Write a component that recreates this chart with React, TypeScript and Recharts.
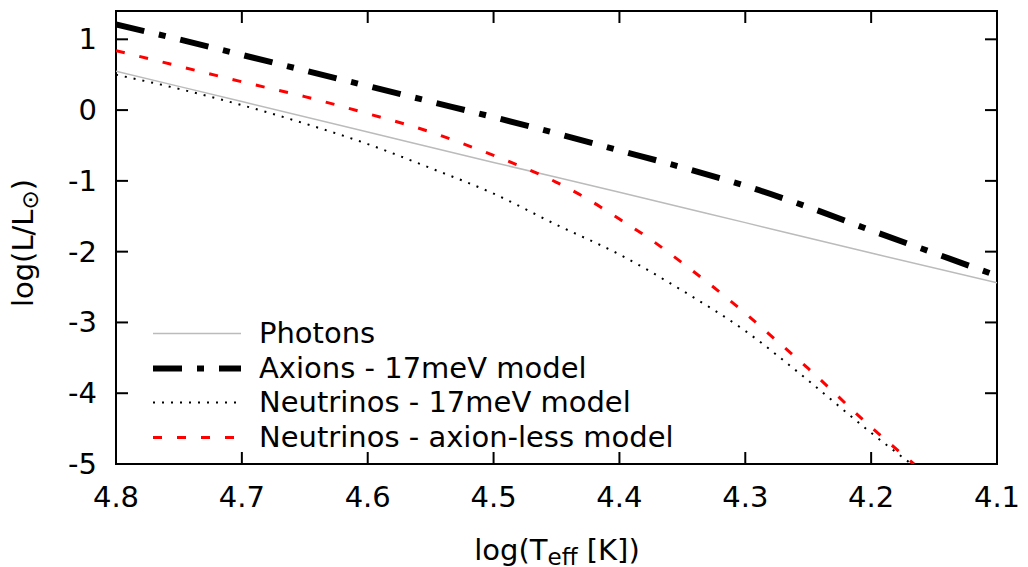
import React from 'react'
import {
  LineChart, Line, XAxis, YAxis, Legend, ReferenceArea
} from 'recharts'

// log(Teff) ticks, reversed axis (hot on the left)
const xTicks = [4.8, 4.7, 4.6, 4.5, 4.4, 4.3, 4.2, 4.1]
const yTicks = [-5, -4, -3, -2, -1, 0, 1]

const photonsT = [4.8, 4.7, 4.6, 4.5, 4.4, 4.3, 4.2, 4.1]
const photonsL = [0.55, 0.12, -0.31, -0.74, -1.16, -1.59, -2.02, -2.44]

const axionsT = [4.8, 4.75, 4.7, 4.65, 4.6, 4.55, 4.5, 4.45, 4.4, 4.35, 4.3, 4.25, 4.2, 4.15, 4.1]
const axionsL = [1.21, 1.0, 0.78, 0.56, 0.34, 0.12, -0.1, -0.33, -0.57, -0.81, -1.07, -1.37, -1.7, -2.02, -2.34]

const nu17T = [4.8, 4.75, 4.7, 4.65, 4.6, 4.55, 4.5, 4.45, 4.4, 4.35, 4.3, 4.25, 4.2, 4.168]
const nu17L = [0.5, 0.3, 0.07, -0.19, -0.48, -0.82, -1.18, -1.62, -2.04, -2.55, -3.12, -3.82, -4.56, -5.0]

const nuNoAxT = [4.8, 4.75, 4.7, 4.65, 4.6, 4.55, 4.525, 4.5, 4.475, 4.45, 4.425, 4.4, 4.375, 4.35, 4.3, 4.275, 4.25, 4.2, 4.166]
const nuNoAxL = [0.84, 0.62, 0.4, 0.19, -0.05, -0.31, -0.47, -0.64, -0.82, -1.02, -1.26, -1.54, -1.83, -2.16, -2.87, -3.26, -3.65, -4.48, -5.0]

const seriesNames = ['Photons', 'Axions - 17meV model', 'Neutrinos - 17meV model', 'Neutrinos - axion-less model']
const seriesColors = ['#bbbbbb', '#000000', '#000000', '#ff0000']
const seriesWidths = [1.5, 6, 2, 3]
const seriesDash = ['', '29 15 7 15', '2 7', '9 15']

const toPoints = (ts: number[], ls: number[]) => ts.map((x, i) => ({ x, y: ls[i] }))

const W = 1028
const H = 567
const TOP = 11
const LEFT = 116
const RIGHT = 997
const BOTTOM = 464
const FONT = 'DejaVu Sans'
const FS = 29

const XTick = (props: any) => {
  const { x, payload } = props
  return (
    <g>
      <line x1={x} x2={x} y1={BOTTOM} y2={BOTTOM - 12} stroke="#000" strokeWidth={2} />
      <line x1={x} x2={x} y1={TOP} y2={TOP + 12} stroke="#000" strokeWidth={2} />
      <text x={x} y={BOTTOM + 43} textAnchor="middle" fontFamily={FONT} fontSize={FS} fill="#000">
        {Number(payload.value).toFixed(1)}
      </text>
    </g>
  )
}

const YTick = (props: any) => {
  const { y, payload } = props
  return (
    <g>
      <line x1={LEFT} x2={LEFT + 12} y1={y} y2={y} stroke="#000" strokeWidth={2} />
      <line x1={RIGHT} x2={RIGHT - 12} y1={y} y2={y} stroke="#000" strokeWidth={2} />
      <text x={97} y={y + 10} textAnchor="end" fontFamily={FONT} fontSize={FS} fill="#000">
        {String(payload.value)}
      </text>
    </g>
  )
}

const XTitle = () => (
  <text x={557} y={560} textAnchor="middle" fontFamily={FONT} fontSize={FS} fill="#000">
    log(T<tspan fontSize={23} dy={5}>eff</tspan><tspan dy={-5}> [K])</tspan>
  </text>
)

const YTitle = () => (
  <text
    x={0} y={0}
    transform="translate(33,243) rotate(-90)"
    textAnchor="middle" fontFamily={FONT} fontSize={FS} fill="#000"
  >
    log(L/L<tspan fontSize={23} dy={5}>⊙</tspan><tspan dy={-5}>)</tspan>
  </text>
)

const LegendBox = () => (
  <div style={{ fontFamily: FONT, fontSize: FS, color: '#000' }}>
    {seriesNames.map((name, i) => (
      <div key={name} style={{ display: 'flex', alignItems: 'center', height: 34.7, lineHeight: '34.7px' }}>
        <svg width={109} height={34.7} style={{ display: 'block' }}>
          <line
            x1={3} x2={91} y1={17.5} y2={17.5}
            stroke={seriesColors[i]} strokeWidth={seriesWidths[i]}
            strokeDasharray={seriesDash[i] || undefined}
          />
        </svg>
        <span style={{ whiteSpace: 'nowrap' }}>{name}</span>
      </div>
    ))}
  </div>
)

export default function App() {
  const data = [
    toPoints(photonsT, photonsL),
    toPoints(axionsT, axionsL),
    toPoints(nu17T, nu17L),
    toPoints(nuNoAxT, nuNoAxL),
  ]
  return (
    <div style={{ position: 'absolute', left: 0, top: 0, background: '#fff' }}>
      <LineChart width={W} height={H} margin={{ top: TOP, right: W - RIGHT, bottom: 0, left: 0 }}>
        <XAxis
          type="number" dataKey="x" domain={[4.1, 4.8]} reversed ticks={xTicks}
          allowDataOverflow axisLine={false} tickLine={false} tick={<XTick />}
          height={H - BOTTOM} label={<XTitle />}
        />
        <YAxis
          type="number" dataKey="y" domain={[-5, 1.4]} ticks={yTicks}
          allowDataOverflow axisLine={false} tickLine={false} tick={<YTick />}
          width={LEFT} label={<YTitle />}
        />
        <ReferenceArea
          x1={4.8} x2={4.1} y1={-5} y2={1.4}
          fill="none" stroke="#000" strokeWidth={2} ifOverflow="visible"
        />
        {data.map((pts, i) => (
          <Line
            key={seriesNames[i]}
            data={pts}
            dataKey="y"
            name={seriesNames[i]}
            type="monotone"
            stroke={seriesColors[i]}
            strokeWidth={seriesWidths[i]}
            strokeDasharray={seriesDash[i] || undefined}
            strokeLinecap="butt"
            dot={false}
            activeDot={false}
            isAnimationActive={false}
          />
        ))}
        <Legend
          layout="vertical" align="center" verticalAlign="middle"
          content={<LegendBox />}
          wrapperStyle={{ left: 150, top: 316, width: 600 }}
        />
      </LineChart>
    </div>
  )
}
